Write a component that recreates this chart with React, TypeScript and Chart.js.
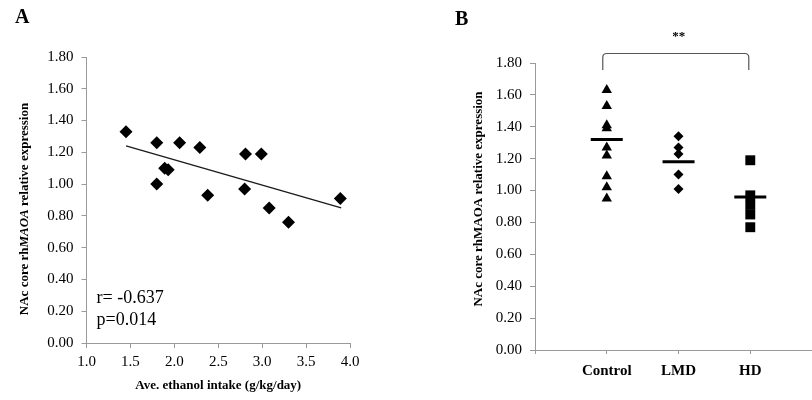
import React, { useEffect, useRef } from 'react';
import { Chart, registerables } from 'chart.js';

Chart.register(...registerables);

const FONT = "'Liberation Serif', 'Times New Roman', serif";
const AXIS_COLOR = '#9a9a9a';

// ---------- Panel A data ----------
const intakeX = [1.45, 1.80, 2.06, 2.29, 2.81, 2.99, 1.89, 1.93, 1.80, 2.38, 2.80, 3.08, 3.30, 3.89];
const expressionA = [1.33, 1.26, 1.26, 1.23, 1.19, 1.19, 1.10, 1.09, 1.00, 0.93, 0.97, 0.85, 0.76, 0.91];
const trendX = [1.45, 3.90];
const trendY = [1.24, 0.85];
const statsLines = ['r= -0.637', 'p=0.014'];
const xTitleA = 'Ave. ethanol intake (g/kg/day)';

// ---------- Panel B data ----------
const groups = ['Control', 'LMD', 'HD'];
const controlVals = [1.63, 1.53, 1.41, 1.39, 1.27, 1.22, 1.09, 1.02, 0.95];
const lmdVals = [1.34, 1.27, 1.23, 1.10, 1.01];
const hdVals = [1.19, 0.97, 0.91, 0.85, 0.77];
const groupMeans = [1.32, 1.18, 0.96];
const sigLabel = '**';

type Seg = { text: string; font: string };

function drawRotated(ctx: CanvasRenderingContext2D, segs: Seg[], cx: number, cy: number) {
  ctx.save();
  ctx.translate(cx, cy);
  ctx.rotate(-Math.PI / 2);
  ctx.textBaseline = 'middle';
  ctx.textAlign = 'left';
  ctx.fillStyle = '#000';
  const widths = segs.map((s) => {
    ctx.font = s.font;
    return ctx.measureText(s.text).width;
  });
  const total = widths.reduce((a, b) => a + b, 0);
  let x = -total / 2;
  segs.forEach((s, i) => {
    ctx.font = s.font;
    ctx.fillText(s.text, x, 0);
    x += widths[i];
  });
  ctx.restore();
}

const yTitleA: Seg[] = [
  { text: 'NAc core rh', font: `bold 13px ${FONT}` },
  { text: 'MAOA', font: `italic bold 13px ${FONT}` },
  { text: ' relative expression', font: `bold 13px ${FONT}` },
];
const yTitleB: Seg[] = [{ text: 'NAc core rhMAOA relative expression', font: `bold 13px ${FONT}` }];

const commonGrid = {
  drawOnChartArea: false,
  color: AXIS_COLOR,
  tickLength: 5,
};

function PanelA() {
  const ref = useRef<HTMLCanvasElement>(null);
  useEffect(() => {
    if (!ref.current) return;
    const overlay = {
      id: 'overlayA',
      afterDraw(chart: any) {
        const { ctx, chartArea } = chart;
        ctx.save();
        ctx.fillStyle = '#000';
        ctx.font = `bold 20px ${FONT}`;
        ctx.textBaseline = 'middle';
        ctx.textAlign = 'left';
        ctx.fillText('A', 15, 18);
        ctx.font = `18px ${FONT}`;
        statsLines.forEach((t, i) => ctx.fillText(t, chartArea.left + 10, 298 + i * 22));
        ctx.restore();
        drawRotated(ctx, yTitleA, 25, 209);
      },
    };
    const chart = new Chart(ref.current, {
      type: 'scatter',
      data: {
        datasets: [
          {
            label: 'samples',
            data: intakeX.map((x, i) => ({ x, y: expressionA[i] })),
            pointStyle: 'rectRot',
            pointRadius: 6.5,
            backgroundColor: '#000',
            borderColor: '#000',
            borderWidth: 0,
          },
          {
            type: 'line',
            label: 'trend',
            data: trendX.map((x, i) => ({ x, y: trendY[i] })),
            borderColor: '#1a1a1a',
            borderWidth: 1.3,
            pointRadius: 0,
            fill: false,
          } as any,
        ],
      },
      options: {
        animation: false,
        responsive: false,
        events: [],
        layout: { autoPadding: false, padding: { left: 0, right: 56, top: 57, bottom: 0 } },
        plugins: { legend: { display: false }, tooltip: { enabled: false } },
        scales: {
          x: {
            type: 'linear',
            min: 1,
            max: 4,
            afterFit: (s: any) => { s.height = 57; s.paddingLeft = 0; s.paddingRight = 0; },
            ticks: {
              stepSize: 0.5,
              padding: 5,
              color: '#000',
              font: { family: FONT, size: 15 },
              callback: (v: any) => Number(v).toFixed(1),
            },
            grid: commonGrid,
            border: { color: AXIS_COLOR },
            title: {
              display: true,
              text: xTitleA,
              color: '#000',
              font: { family: FONT, size: 13, weight: 'bold' },
              padding: { top: 0, bottom: 7 },
            },
          },
          y: {
            min: 0,
            max: 1.8,
            afterFit: (s: any) => { s.width = 86.5; },
            ticks: {
              stepSize: 0.2,
              padding: 8,
              color: '#000',
              font: { family: FONT, size: 15 },
              callback: (v: any) => Number(v).toFixed(2),
            },
            grid: commonGrid,
            border: { color: AXIS_COLOR },
          },
        },
      },
      plugins: [overlay],
    } as any);
    return () => chart.destroy();
  }, []);
  return <canvas ref={ref} width={406} height={400} style={{ position: 'absolute', left: 0, top: 0 }} />;
}

function PanelB() {
  const ref = useRef<HTMLCanvasElement>(null);
  useEffect(() => {
    if (!ref.current) return;
    const overlay = {
      id: 'overlayB',
      afterDraw(chart: any) {
        const { ctx, scales } = chart;
        const xs = scales.x;
        ctx.save();
        ctx.fillStyle = '#000';
        ctx.font = `bold 20px ${FONT}`;
        ctx.textBaseline = 'middle';
        ctx.textAlign = 'left';
        ctx.fillText('B', 49, 20);
        // significance bracket
        const x1 = xs.getPixelForValue(1) - 4;
        const x2 = xs.getPixelForValue(3) - 1.5;
        const yTop = 53.5;
        const yBot = 70;
        const r = 4;
        ctx.strokeStyle = '#555';
        ctx.lineWidth = 1.2;
        ctx.beginPath();
        ctx.moveTo(x1, yBot);
        ctx.lineTo(x1, yTop + r);
        ctx.quadraticCurveTo(x1, yTop, x1 + r, yTop);
        ctx.lineTo(x2 - r, yTop);
        ctx.quadraticCurveTo(x2, yTop, x2, yTop + r);
        ctx.lineTo(x2, yBot);
        ctx.stroke();
        ctx.font = `bold 13px ${FONT}`;
        ctx.textAlign = 'center';
        ctx.fillText(sigLabel, (x1 + x2) / 2 + 3, 37);
        ctx.restore();
        drawRotated(ctx, yTitleB, 73, 199);
      },
    };
    const pts = (vals: number[], gx: number) => vals.map((y) => ({ x: gx, y }));
    const chart = new Chart(ref.current, {
      type: 'scatter',
      data: {
        datasets: [
          {
            label: groups[0],
            data: pts(controlVals, 1),
            pointStyle: 'triangle',
            pointRadius: 6,
            backgroundColor: '#000',
            borderColor: '#000',
            borderWidth: 0,
          },
          {
            label: groups[1],
            data: pts(lmdVals, 2),
            pointStyle: 'rectRot',
            pointRadius: 5,
            backgroundColor: '#000',
            borderColor: '#000',
            borderWidth: 0,
          },
          {
            label: groups[2],
            data: pts(hdVals, 3),
            pointStyle: 'rect',
            pointRadius: 7,
            backgroundColor: '#000',
            borderColor: '#000',
            borderWidth: 0,
          },
          {
            label: 'mean',
            data: groupMeans.map((y, i) => ({ x: i + 1, y })),
            pointStyle: 'line',
            pointRadius: 16,
            borderColor: '#000',
            borderWidth: 3,
          },
        ],
      },
      options: {
        animation: false,
        responsive: false,
        events: [],
        layout: { autoPadding: false, padding: { left: 0, right: 0, top: 63, bottom: 0 } },
        plugins: { legend: { display: false }, tooltip: { enabled: false } },
        scales: {
          x: {
            type: 'linear',
            min: 0,
            max: 3.86,
            afterFit: (s: any) => { s.height = 50; s.paddingLeft = 0; s.paddingRight = 0; },
            ticks: {
              stepSize: 1,
              includeBounds: false,
              padding: 8,
              color: '#000',
              font: { family: FONT, size: 15, weight: 'bold' },
              callback: (v: any) => (v >= 1 && v <= 3 ? groups[v - 1] : ''),
            },
            grid: { ...commonGrid, tickLength: 4 },
            border: { color: AXIS_COLOR },
          },
          y: {
            min: 0,
            max: 1.8,
            afterFit: (s: any) => { s.width = 129; },
            ticks: {
              stepSize: 0.2,
              padding: 8,
              color: '#000',
              font: { family: FONT, size: 15 },
              callback: (v: any) => Number(v).toFixed(2),
            },
            grid: commonGrid,
            border: { color: AXIS_COLOR },
          },
        },
      },
      plugins: [overlay],
    } as any);
    return () => chart.destroy();
  }, []);
  return <canvas ref={ref} width={406} height={400} style={{ position: 'absolute', left: 406, top: 0 }} />;
}

export default function App() {
  return (
    <div style={{ position: 'absolute', left: 0, top: 0, width: 812, height: 400, background: '#fff' }}>
      <PanelA />
      <PanelB />
    </div>
  );
}
